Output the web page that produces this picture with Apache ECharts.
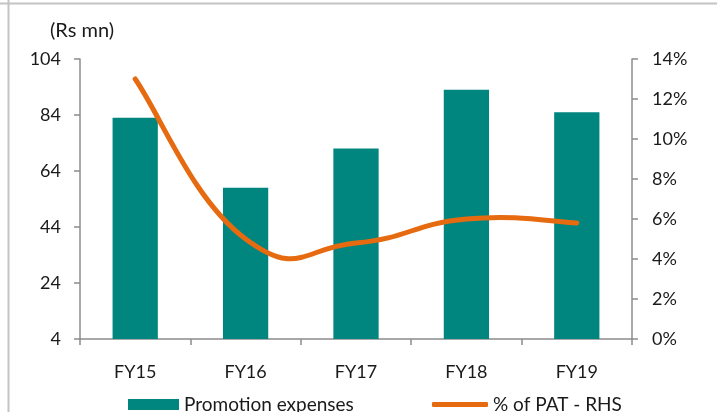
<!DOCTYPE html>
<html>
<head>
<meta charset="utf-8">
<script src="https://cdn.jsdelivr.net/npm/echarts@6/dist/echarts.min.js"></script>
<style>
  html, body { margin: 0; padding: 0; background: #fff; }
  #chart { width: 717px; height: 412px; }
</style>
</head>
<body>
<div id="chart"></div>
<script>
// Fiscal years on the category axis
var years = ['FY15', 'FY16', 'FY17', 'FY18', 'FY19'];
// Promotion expenses, Rs mn (left axis)
var promotionExpenses = [83, 58, 72, 93, 85];
// Promotion expenses as % of PAT (right axis)
var pctOfPat = [13.0, 5.0, 4.8, 6.0, 5.8];
// Left axis tick range
var leftMin = 4, leftMax = 104, leftStep = 20;
// Right axis tick range (%)
var rightMin = 0, rightMax = 14, rightStep = 2;

var FONT = 'Lato, "Open Sans", sans-serif';
var AXIS_GREY = '#8c8c8c';
var TEXT = '#1a1a1a';
var TEAL = '#00857f';
var ORANGE = '#e66a10';

// Spreadsheet-style smoothed curve: cubic Bezier segments whose tangents
// follow the neighbouring points (Catmull-Rom like), allowed to overshoot.
var TENSION = 0.24;
function smoothPath(pts) {
  var d = 'M' + pts[0][0] + ',' + pts[0][1];
  for (var i = 0; i < pts.length - 1; i++) {
    var p0 = pts[Math.max(i - 1, 0)];
    var p1 = pts[i];
    var p2 = pts[i + 1];
    var p3 = pts[Math.min(i + 2, pts.length - 1)];
    var c1x = p1[0] + (p2[0] - p0[0]) * TENSION;
    var c1y = p1[1] + (p2[1] - p0[1]) * TENSION;
    var c2x = p2[0] - (p3[0] - p1[0]) * TENSION;
    var c2y = p2[1] - (p3[1] - p1[1]) * TENSION;
    d += ' C' + c1x + ',' + c1y + ' ' + c2x + ',' + c2y + ' ' + p2[0] + ',' + p2[1];
  }
  return d;
}

var chart = echarts.init(document.getElementById('chart'), null, { renderer: 'canvas' });

chart.setOption({
  backgroundColor: '#ffffff',
  animation: false,
  textStyle: { fontFamily: FONT },
  graphic: [
    // outer frame lines
    { type: 'line', shape: { x1: 0, y1: 3.5, x2: 717, y2: 3.5 }, style: { stroke: '#c4c4c4', lineWidth: 2 } },
    { type: 'line', shape: { x1: 8.5, y1: 0, x2: 8.5, y2: 412 }, style: { stroke: '#c4c4c4', lineWidth: 2 } },
    // unit caption
    { type: 'text', left: 50, top: 21, style: { text: '(Rs mn)', font: '20px ' + FONT, fill: TEXT } }
  ],
  grid: { left: 80, right: 85, top: 59, bottom: 73, containLabel: false },
  legend: [
    {
      data: [{ name: 'Promotion expenses', icon: 'rect' }],
      left: 128, top: 395, padding: 0,
      itemWidth: 51, itemHeight: 11,
      textStyle: { fontSize: 19, color: TEXT, fontFamily: FONT }
    },
    {
      data: [{ name: '% of PAT - RHS', icon: 'roundRect' }],
      left: 432, top: 395, padding: 0,
      itemWidth: 56, itemHeight: 5,
      textStyle: { fontSize: 19, color: TEXT, fontFamily: FONT }
    }
  ],
  xAxis: {
    type: 'category',
    data: years,
    boundaryGap: true,
    axisLine: { lineStyle: { color: AXIS_GREY, width: 1.5 } },
    axisTick: { show: true, length: 6, lineStyle: { color: AXIS_GREY, width: 1.5 } },
    axisLabel: { fontSize: 18, color: TEXT, fontFamily: FONT, margin: 24 },
    splitLine: { show: false }
  },
  yAxis: [
    {
      type: 'value',
      min: leftMin, max: leftMax, interval: leftStep,
      axisLine: { show: true, lineStyle: { color: AXIS_GREY, width: 1.5 } },
      axisTick: { show: true, inside: false, length: 6, lineStyle: { color: AXIS_GREY, width: 1.5 } },
      axisLabel: { fontSize: 18, color: TEXT, fontFamily: FONT, margin: 19 },
      splitLine: { show: false }
    },
    {
      type: 'value',
      position: 'right',
      min: rightMin, max: rightMax, interval: rightStep,
      axisLine: { show: true, lineStyle: { color: AXIS_GREY, width: 1.5 } },
      axisTick: { show: true, inside: false, length: 6, lineStyle: { color: AXIS_GREY, width: 1.5 } },
      axisLabel: { fontSize: 18, color: TEXT, fontFamily: FONT, margin: 20, formatter: '{value}%' },
      splitLine: { show: false }
    }
  ],
  series: [
    {
      name: 'Promotion expenses',
      type: 'bar',
      yAxisIndex: 0,
      data: promotionExpenses,
      barWidth: '41%',
      itemStyle: { color: TEAL }
    },
    {
      name: '% of PAT - RHS',
      type: 'custom',
      yAxisIndex: 1,
      data: pctOfPat.map(function (v, i) { return [i, v]; }),
      encode: { x: 0, y: 1 },
      itemStyle: { color: ORANGE },
      z: 3,
      renderItem: function (params, api) {
        // the whole curve is drawn once, from every point mapped through the axes
        if (params.dataIndex !== 0) return null;
        var pts = pctOfPat.map(function (v, i) { return api.coord([i, v]); });
        return {
          type: 'path',
          shape: { pathData: smoothPath(pts) },
          style: { fill: null, stroke: ORANGE, lineWidth: 5, lineCap: 'round', lineJoin: 'round' }
        };
      }
    }
  ]
});
</script>
</body>
</html>
